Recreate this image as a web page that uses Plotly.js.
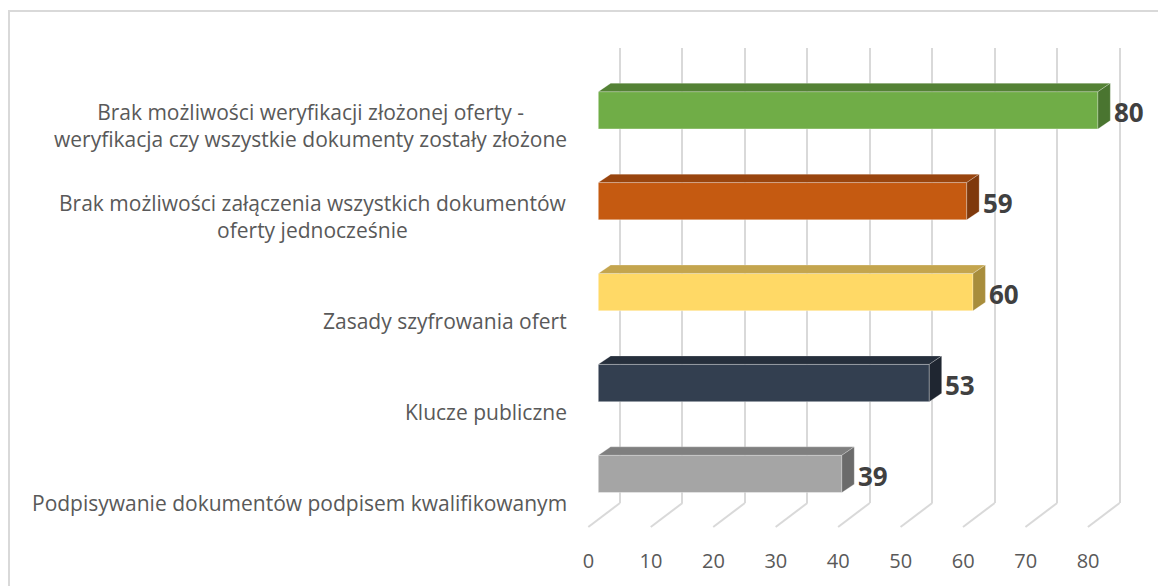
<!DOCTYPE html>
<html>
<head>
<meta charset="utf-8">
<script src="https://cdn.plot.ly/plotly-3.0.1.min.js"></script>
<style>
  body { margin: 0; background: #fff; }
  #frame { position: absolute; left: 8px; top: 10px; width: 1200px; height: 600px;
           border-top: 2px solid #d9d9d9; border-left: 2px solid #d9d9d9; }
  #chart { position: absolute; left: 0; top: 0; width: 1158px; height: 586px; }
</style>
</head>
<body>
<div id="frame"></div>
<div id="chart"></div>
<script>
// categories from top to bottom
var categories = [
	'Brak możliwości weryfikacji złożonej oferty -<br>weryfikacja czy wszystkie dokumenty zostały złożone',
	'Brak możliwości załączenia wszystkich dokumentów<br>oferty jednocześnie',
	'Zasady szyfrowania ofert',
	'Klucze publiczne',
	'Podpisywanie dokumentów podpisem kwalifikowanym'
];
var values = [80, 59, 60, 53, 39];
var frontColors = ['#70ad47', '#c55a11', '#ffd966', '#333f50', '#a5a5a5'];
var topColors = ['#548235', '#99450e', '#c4a54e', '#262f3c', '#7f7f7f'];
var sideColors = ['#4a7530', '#7f390c', '#a88d3c', '#1f2631', '#6b6b6b'];
var tickValues = [0, 10, 20, 30, 40, 50, 60, 70, 80];

window.onload = function () {
	drawChart();
}

function drawChart() {
	var target = document.getElementById('chart');

	// pixel geometry of the 3D look
	var plotLeft = 575, plotRight = 1145, plotTop = 48, plotBottom = 503;
	var pxPerUnit = 6.245;
	var barZero = 598.3, gridZero = 620, labelZero = 588.5;
	var rowPx = 90.9, firstRow = 110.3;
	var depthX = 12.4, depthY = 8.4;
	var floorX = 31.7, floorY = 24;
	var font = 'Open Sans, sans-serif';

	function rangeFor(zero) {
		return [(plotLeft - zero) / pxPerUnit, (plotRight - zero) / pxPerUnit];
	}

	var idx = categories.map(function (c, i) { return i; });
	var barWidth = 37.3 / rowPx;
	var dxU = depthX / pxPerUnit;
	var dyU = depthY / rowPx;

	var data = [
		{
			type: 'bar',
			orientation: 'h',
			x: values,
			y: idx,
			width: barWidth,
			marker: {
				color: frontColors,
				line: {color: 'rgba(255,255,255,0.35)', width: 1}
			},
			hoverinfo: 'x',
			xaxis: 'x',
			yaxis: 'y'
		},
		// invisible points so the grid and label axes get drawn
		{
			type: 'scatter', x: [0], y: [0], xaxis: 'x2', yaxis: 'y',
			mode: 'markers', marker: {opacity: 0}, hoverinfo: 'skip'
		},
		{
			type: 'scatter', x: [0], y: [0], xaxis: 'x3', yaxis: 'y',
			mode: 'markers', marker: {opacity: 0}, hoverinfo: 'skip'
		}
	];

	var shapes = [];
	// floor lines of the back wall
	tickValues.forEach(function (t) {
		shapes.push({
			type: 'line', xref: 'x2', yref: 'paper',
			x0: t, y0: 0,
			x1: t - floorX / pxPerUnit, y1: -floorY / (plotBottom - plotTop),
			line: {color: '#d9d9d9', width: 2},
			layer: 'below'
		});
	});
	// top and side faces of the bars
	values.forEach(function (v, i) {
		var yt = i - barWidth / 2, yb = i + barWidth / 2;
		shapes.push({
			type: 'path', xref: 'x', yref: 'y',
			path: 'M0,' + yt + ' L' + v + ',' + yt + ' L' + (v + dxU) + ',' + (yt - dyU) +
				' L' + dxU + ',' + (yt - dyU) + ' Z',
			fillcolor: topColors[i],
			line: {color: 'rgba(255,255,255,0.3)', width: 0.8}
		});
		shapes.push({
			type: 'path', xref: 'x', yref: 'y',
			path: 'M' + v + ',' + yt + ' L' + (v + dxU) + ',' + (yt - dyU) +
				' L' + (v + dxU) + ',' + (yb - dyU) + ' L' + v + ',' + yb + ' Z',
			fillcolor: sideColors[i],
			line: {color: 'rgba(255,255,255,0.3)', width: 0.8}
		});
	});

	var annotations = [];
	categories.forEach(function (c, i) {
		var lines = c.split('<br>').length;
		annotations.push({
			text: c, xref: 'paper', yref: 'y',
			x: 0, y: i, xanchor: 'right', yanchor: 'middle',
			xshift: -6, align: 'center',
			yshift: -(29 - 13.6 * (lines - 1)), showarrow: false,
			font: {family: font, size: 21, color: '#595959'}
		});
		annotations.push({
			text: String(values[i]), xref: 'x', yref: 'y',
			x: values[i], y: i, xanchor: 'left', yanchor: 'middle',
			xshift: 14, yshift: -2, showarrow: false,
			font: {family: font, size: 26, color: '#404040', weight: 'bold'}
		});
	});

	var layout = {
		width: 1158,
		height: 586,
		margin: {l: plotLeft, r: 1158 - plotRight, t: plotTop, b: 586 - plotBottom, pad: 0},
		paper_bgcolor: 'rgba(0,0,0,0)',
		plot_bgcolor: 'rgba(0,0,0,0)',
		showlegend: false,
		xaxis: {
			range: rangeFor(barZero),
			showgrid: false, zeroline: false, showticklabels: false, showline: false
		},
		xaxis2: {
			range: rangeFor(gridZero), overlaying: 'x', anchor: 'y',
			tickvals: tickValues, showgrid: true, gridcolor: '#d9d9d9', gridwidth: 2,
			zeroline: false, showticklabels: false, showline: false
		},
		xaxis3: {
			range: rangeFor(labelZero), overlaying: 'x', anchor: 'y',
			tickvals: tickValues, showgrid: false, zeroline: false, showline: false,
			ticks: '', ticklabelstandoff: 44,
			tickfont: {family: font, size: 20, color: '#595959'}
		},
		yaxis: {
			range: [(plotBottom - firstRow) / rowPx, (plotTop - firstRow) / rowPx],
			showgrid: false, zeroline: false, showticklabels: false, showline: false
		},
		shapes: shapes,
		annotations: annotations
	};

	Plotly.newPlot(target, data, layout, {displayModeBar: false, staticPlot: true});
}
</script>
</body>
</html>
